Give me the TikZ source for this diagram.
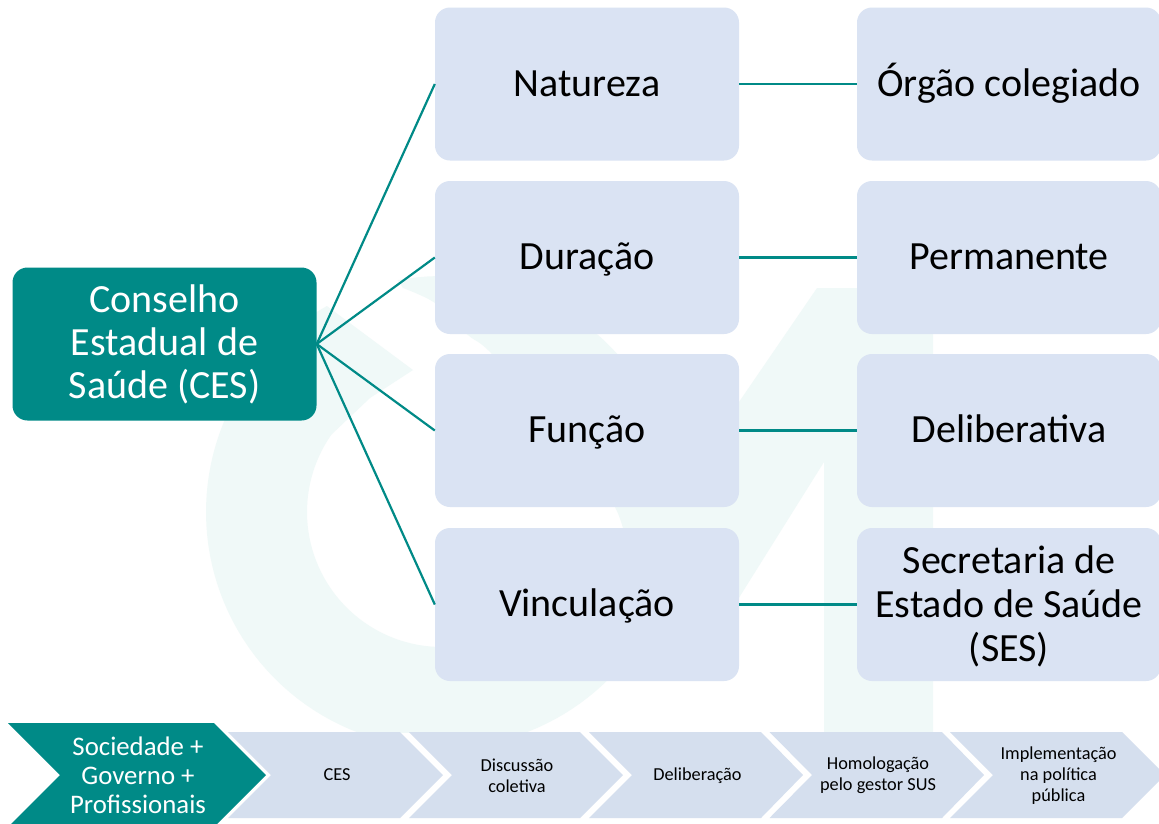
\documentclass[tikz,border=0pt]{standalone}
\usepackage{fontspec}
\setmainfont{Carlito}
\definecolor{teal1}{HTML}{008A87}
\definecolor{boxblue}{HTML}{DAE3F3}
\definecolor{chevblue}{HTML}{D5DFEE}
\definecolor{wmark}{HTML}{F0F9F8}
\newcommand{\bigstrut}{\rule[-14pt]{0pt}{52pt}}
\newcommand{\smallstrut}{\rule[-4pt]{0pt}{19pt}}
\newcommand{\topstrut}{\rule{0pt}{31pt}}
\newcommand{\rootstrut}{\rule{0pt}{29.5pt}}
\tikzset{
  x=1pt,y=-1pt,
  cbox/.style={fill=boxblue,rounded corners=15pt,minimum width=304pt,minimum height=153pt,inner sep=0pt,align=center,text=black,font=\fontsize{40}{44}\selectfont},
  rootbox/.style={cbox,fill=teal1,text=white,font=\fontsize{40}{43}\selectfont},
  link/.style={draw=teal1,line width=2.2pt},
  chev/.style={fill=chevblue},
  chevfirst/.style={fill=teal1},
  chevtext/.style={inner sep=0pt,align=center,text=black,font=\fontsize{18.3}{21}\selectfont},
  firsttext/.style={inner sep=0pt,align=center,text=white,font=\fontsize{26.8}{29}\selectfont},
}
\begin{document}
\begin{tikzpicture}
\useasboundingbox[clip] (0,0) rectangle (1159,823);
\fill[white] (0,0) rectangle (1159,823);
% watermark
\begin{scope}
\clip (0,0) rectangle (1159,732);
\fill[wmark] plot[domain=240.8:-100.8,samples=140] ({442+236*cos(\x)},{512+236*sin(\x)})
  -- plot[smooth] coordinates {(403,288) (435,303) (468,335) (491,353) (560,430) (615,507) (630,560)}
  -- (600,620) -- (442,647)
  -- plot[domain=90:215,samples=50] ({442+135*cos(\x)},{512+135*sin(\x)})
  -- (370,398) -- (413,370) -- cycle;
\fill[wmark] (817,288) -- (933,288) -- (933,732) -- (824,732) -- (824,462) -- (700,660) -- (600,600) -- (739,402) -- cycle;
\end{scope}
% boxes
\node[rootbox] (ces) at (164.5,344) {\rootstrut Conselho\\Estadual de\\Saúde (CES)};
\node[cbox] (nat) at (587,84) {\bigstrut Natureza};
\node[cbox] (dur) at (587,257.5) {\bigstrut Duração};
\node[cbox] (fun) at (587,430.5) {\bigstrut Função};
\node[cbox] (vin) at (587,604.5) {\bigstrut Vinculação};
\node[cbox] (org) at (1009,84) {\bigstrut Órgão colegiado};
\node[cbox] (per) at (1009,257.5) {\bigstrut Permanente};
\node[cbox] (del) at (1009,430.5) {\bigstrut Deliberativa};
\node[cbox] (ses) at (1009,604.5) {\topstrut Secretaria de\\Estado de Saúde\\(SES)};
% connectors
\foreach \t in {nat,dur,fun,vin} \draw[link] (ces.east) -- (\t.west);
\draw[link] (nat.east) -- (org.west);
\draw[link] (dur.east) -- (per.west);
\draw[link] (fun.east) -- (del.west);
\draw[link] (vin.east) -- (ses.west);
% chevrons
\fill[chev] (228,732) -- (400,732) -- (443,775) -- (400,818) -- (228,818) -- (271,775) -- cycle;
\fill[chev] (409,732) -- (580,732) -- (623,775) -- (580,818) -- (409,818) -- (452,775) -- cycle;
\fill[chev] (589,732) -- (761,732) -- (803,775) -- (761,818) -- (589,818) -- (632,775) -- cycle;
\fill[chev] (769.5,732) -- (942,732) -- (984,775) -- (942,818) -- (769.5,818) -- (812,775) -- cycle;
\fill[chev] (950,732) -- (1122,732) -- (1165,775) -- (1122,818) -- (950,818) -- (993,775) -- cycle;
\fill[chevfirst] (8,723) -- (214,723) -- (266,775) -- (214,827) -- (8,827) -- (60,775) -- cycle;
\node[firsttext] (soc) at (138,775) {Sociedade +\\Governo +\\Profissionais};
\node[chevtext] (c1) at (337,775) {\smallstrut CES};
\node[chevtext] (c2) at (517,775.5) {Discussão\\coletiva};
\node[chevtext] (c3) at (697.5,775) {\smallstrut Deliberação};
\node[chevtext] (c4) at (878,775.5) {Homologação\\pelo gestor SUS};
\node[chevtext] (c5) at (1058.5,776) {Implementação\\na política\\pública};
\end{tikzpicture}
\end{document}
